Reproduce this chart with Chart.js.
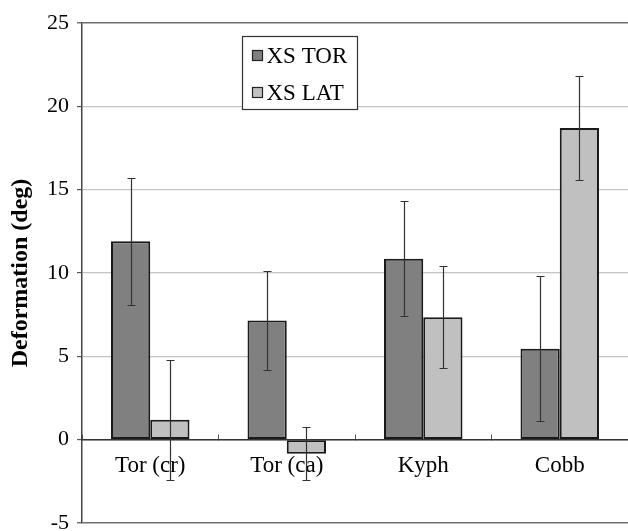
<!DOCTYPE html>
<html>
<head>
<meta charset="utf-8">
<script src="https://cdn.jsdelivr.net/npm/chart.js@4.4.1/dist/chart.umd.min.js"></script>
<style>
  html, body { margin: 0; padding: 0; background: #ffffff; }
  #wrap { width: 628px; height: 531px; position: relative; }
  .probe { font-family: "Liberation Serif"; position: absolute; left: -999px; }
</style>
</head>
<body>
<span class="probe">Tor XS</span><span class="probe" style="font-weight:bold">Deformation</span>
<div id="wrap"><canvas id="c" width="628" height="531"></canvas></div>
<script>
// ---- data ----
const categories = ['Tor (cr)', 'Tor (ca)', 'Kyph', 'Cobb'];
const torValues = [11.9, 7.15, 10.85, 5.45];
const torHigh   = [15.7, 10.1, 14.3, 9.8];
const torLow    = [8.1, 4.2, 7.4, 1.1];
const latValues = [1.2, -0.85, 7.35, 18.7];
const latHigh   = [4.8, 0.75, 10.4, 21.8];
const latLow    = [-2.4, -2.4, 4.3, 15.6];
const yTicks    = [-5, 0, 5, 10, 15, 20, 25];

const FONT = '"Liberation Serif", "Times New Roman", Tinos, serif';

const errorBars = {
  id: 'errorBars',
  afterDraw(chart) {
    const ctx = chart.ctx;
    const y = chart.scales.y;
    ctx.save();
    ctx.strokeStyle = '#333333';
    ctx.lineWidth = 1.2;
    chart.data.datasets.forEach((ds, di) => {
      const meta = chart.getDatasetMeta(di);
      meta.data.forEach((bar, i) => {
        const x = Math.round(bar.x) + 0.5;
        const yh = Math.round(y.getPixelForValue(ds.errHigh[i])) + 0.5;
        const yl = Math.round(y.getPixelForValue(ds.errLow[i])) + 0.5;
        const cap = 4;
        ctx.beginPath();
        ctx.moveTo(x, yh); ctx.lineTo(x, yl);
        ctx.moveTo(x - cap, yh); ctx.lineTo(x + cap, yh);
        ctx.moveTo(x - cap, yl); ctx.lineTo(x + cap, yl);
        ctx.stroke();
      });
    });
    ctx.restore();
  }
};

const boxLegend = {
  id: 'boxLegend',
  afterDraw(chart) {
    const ctx = chart.ctx;
    const a = chart.chartArea;
    const bx = Math.round(a.left + 160) + 0.5, by = Math.round(a.top + 13) + 0.5;
    const bw = 115, bh = 73;
    ctx.save();
    ctx.fillStyle = '#ffffff';
    ctx.fillRect(bx, by, bw, bh);
    ctx.strokeStyle = '#333333';
    ctx.lineWidth = 1.2;
    ctx.strokeRect(bx, by, bw, bh);
    ctx.font = '23px ' + FONT;
    ctx.textBaseline = 'middle';
    ctx.textAlign = 'left';
    chart.data.datasets.forEach((ds, i) => {
      const cy = by + 19 + i * 37;
      ctx.fillStyle = ds.backgroundColor;
      ctx.fillRect(bx + 10, cy - 5, 10, 10);
      ctx.strokeStyle = '#222222';
      ctx.lineWidth = 1.2;
      ctx.strokeRect(bx + 10, cy - 5, 10, 10);
      ctx.fillStyle = '#000000';
      ctx.fillText(ds.label, bx + 24, cy + 1);
    });
    ctx.restore();
  }
};

function draw() {
  new Chart(document.getElementById('c'), {
    type: 'bar',
    data: {
      labels: categories,
      datasets: [
        { label: 'XS TOR', data: torValues, errHigh: torHigh, errLow: torLow,
          backgroundColor: '#808080', borderColor: '#1a1a1a', borderWidth: 2, borderSkipped: false },
        { label: 'XS LAT', data: latValues, errHigh: latHigh, errLow: latLow,
          backgroundColor: '#c0c0c0', borderColor: '#1a1a1a', borderWidth: 2, borderSkipped: false }
      ]
    },
    options: {
      responsive: false,
      animation: false,
      devicePixelRatio: 1,
      layout: { padding: { top: 23, bottom: 8, left: 6, right: 0 } },
      plugins: { legend: { display: false }, tooltip: { enabled: false } },
      datasets: { bar: { categoryPercentage: 0.575, barPercentage: 1.0 } },
      scales: {
        x: {
          position: { y: 0 },
          offset: true,
          grid: { display: true, drawOnChartArea: false, drawTicks: true, tickLength: -6,
                  tickColor: '#555555', tickWidth: 1, offset: true },
          border: { display: true, color: '#333333', width: 1.5 },
          ticks: { color: '#000000', font: { family: FONT, size: 23 }, padding: 18, maxRotation: 0 },
          afterFit(scale) { scale.height = 0; scale.paddingLeft = 0; scale.paddingRight = 0; }
        },
        y: {
          min: -5, max: 25,
          afterBuildTicks(scale) { scale.ticks = yTicks.map(v => ({ value: v })); },
          grid: {
            color: (c) => (c.tick && (c.tick.value === 25 || c.tick.value === -5)) ? '#6e6e6e' : '#c4c4c4',
            lineWidth: (c) => (c.tick && (c.tick.value === 25 || c.tick.value === -5)) ? 1.6 : 1.2,
            drawTicks: true, tickLength: 5, tickColor: '#555555', tickWidth: 1.2
          },
          border: { display: true, color: '#444444', width: 1.5 },
          ticks: { color: '#000000', font: { family: FONT, size: 22 }, padding: 8 },
          title: { display: true, text: 'Deformation (deg)', color: '#000000',
                   font: { family: FONT, size: 24, weight: 'bold' }, padding: { top: 0, bottom: 0 } },
          afterFit(scale) { scale.width = 76; scale.paddingTop = 0; scale.paddingBottom = 0; }
        }
      }
    },
    plugins: [errorBars, boxLegend]
  });
}

if (document.fonts && document.fonts.load) {
  Promise.all([
    document.fonts.load('22px "Liberation Serif"'),
    document.fonts.load('bold 24px "Liberation Serif"')
  ]).then(draw, draw);
} else {
  draw();
}
</script>
</body>
</html>
